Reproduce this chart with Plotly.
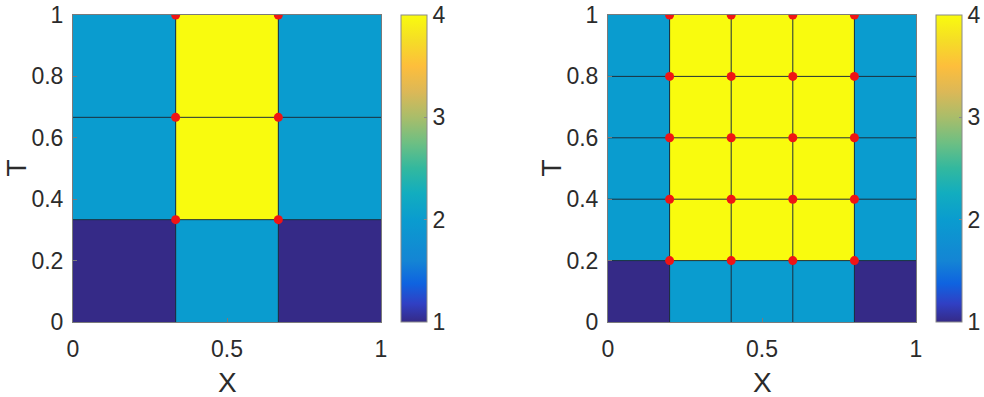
import plotly.graph_objects as go

# ---- data ----
x_edges_left = [0, 1/3, 2/3, 1]
t_edges_left = [0, 1/3, 2/3, 1]
z_left = [
    [1, 2, 1],
    [2, 4, 2],
    [2, 4, 2],
]
pts_left_x = [1/3, 2/3, 1/3, 2/3, 1/3, 2/3]
pts_left_t = [1/3, 1/3, 2/3, 2/3, 1, 1]

x_edges_right = [0, 0.2, 0.4, 0.6, 0.8, 1]
t_edges_right = [0, 0.2, 0.4, 0.6, 0.8, 1]
z_right = [
    [1, 2, 2, 2, 1],
    [2, 4, 4, 4, 2],
    [2, 4, 4, 4, 2],
    [2, 4, 4, 4, 2],
    [2, 4, 4, 4, 2],
]
nodes_right_x = [0.2, 0.4, 0.6, 0.8]
nodes_right_t = [0.2, 0.4, 0.6, 0.8, 1.0]

y_ticks = [0, 0.2, 0.4, 0.6, 0.8, 1]
y_tick_text = ["0", "0.2", "0.4", "0.6", "0.8", "1"]
x_ticks = [0, 0.5, 1]
x_tick_text = ["0", "0.5", "1"]
cb_ticks = [1, 2, 3, 4]
x_title = "X"
y_title = "T"

parula = [
    [0.000, "#352a87"], [0.060, "#3040c4"], [0.125, "#0f63e0"],
    [0.200, "#1485d4"], [0.333, "#0a9ccf"], [0.420, "#12adbf"],
    [0.500, "#32b89f"], [0.583, "#6dbf83"], [0.667, "#a9bd6a"],
    [0.750, "#dcb857"], [0.833, "#fdbe3c"], [0.917, "#f5dd26"],
    [1.000, "#f9fb0e"],
]

W, H = 984, 397
def px_x(p): return p / W
def px_y(p): return 1 - p / H

fig = go.Figure()

def grid_lines(xe, te, xa, ya):
    xs, ys = [], []
    for x in xe[1:-1]:
        xs += [x, x, None]; ys += [te[0], te[-1], None]
    for t in te[1:-1]:
        xs += [xe[0], xe[-1], None]; ys += [t, t, None]
    return go.Scatter(x=xs, y=ys, mode="lines", xaxis=xa, yaxis=ya,
                      line=dict(color="#1c2f3c", width=1), hoverinfo="skip",
                      showlegend=False)

fig.add_trace(go.Heatmap(x=x_edges_left, y=t_edges_left, z=z_left,
                         coloraxis="coloraxis", xaxis="x", yaxis="y"))
fig.add_trace(grid_lines(x_edges_left, t_edges_left, "x", "y"))
fig.add_trace(go.Scatter(x=pts_left_x, y=pts_left_t, mode="markers", xaxis="x", yaxis="y",
                         marker=dict(color="#f01414", size=9), showlegend=False))

fig.add_trace(go.Heatmap(x=x_edges_right, y=t_edges_right, z=z_right,
                         coloraxis="coloraxis2", xaxis="x2", yaxis="y2"))
fig.add_trace(grid_lines(x_edges_right, t_edges_right, "x2", "y2"))
rx = [x for t in nodes_right_t for x in nodes_right_x]
rt = [t for t in nodes_right_t for x in nodes_right_x]
fig.add_trace(go.Scatter(x=rx, y=rt, mode="markers", xaxis="x2", yaxis="y2",
                         marker=dict(color="#f01414", size=9), showlegend=False))

FAM = "Liberation Sans, Arial, sans-serif"
font = dict(family=FAM, size=23, color="#2b2b2b")
title_font = dict(family=FAM, size=28, color="#2b2b2b")
ytop, ybot = 15, 322
ydom = [px_y(ybot), px_y(ytop)]

def xaxis(dom, anchor):
    return dict(domain=dom, range=[0, 1], tickvals=x_ticks, ticktext=x_tick_text,
                anchor=anchor, showline=True, mirror=True, linecolor="#7a7a7a",
                linewidth=1, ticks="inside", ticklen=4, tickcolor="#7a7a7a",
                ticklabelstandoff=6,
                showgrid=False, zeroline=False, tickfont=font)

def yaxis(anchor):
    return dict(domain=ydom, range=[0, 1], tickvals=y_ticks, ticktext=y_tick_text,
                anchor=anchor, showline=True, mirror=True, linecolor="#7a7a7a",
                linewidth=1, ticks="inside", ticklen=4, tickcolor="#7a7a7a",
                ticklabelstandoff=4,
                showgrid=False, zeroline=False, tickfont=font)

def cbar(xleft):
    return dict(x=px_x(xleft), xanchor="left", y=px_y(ytop), yanchor="top",
                len=(ybot - ytop) / H, lenmode="fraction", thickness=26,
                thicknessmode="pixels", xpad=0, ypad=0, outlinecolor="#8a8a8a",
                outlinewidth=1, tickvals=cb_ticks, ticks="inside", ticklen=3,
                tickcolor="#8a8a8a", tickfont=font)

annotations = []
for xl, xr, ylab_x in [(73, 381, 0), (608, 916, 535)]:
    annotations.append(dict(text=x_title, x=px_x((xl + xr) / 2), y=px_y(382),
                            xref="paper", yref="paper", showarrow=False,
                            xanchor="center", yanchor="middle", font=title_font))
    annotations.append(dict(text=y_title, x=px_x(ylab_x), y=px_y(168),
                            xref="paper", yref="paper", showarrow=False, textangle=-90,
                            borderpad=0,
                            xanchor="left", yanchor="middle", font=title_font))

fig.update_layout(
    width=W, height=H, margin=dict(l=0, r=0, t=0, b=0, autoexpand=False),
    paper_bgcolor="white", plot_bgcolor="white", showlegend=False,
    xaxis=xaxis([px_x(73), px_x(381)], "y"),
    yaxis=yaxis("x"),
    xaxis2=xaxis([px_x(608), px_x(916)], "y2"),
    yaxis2=yaxis("x2"),
    coloraxis=dict(colorscale=parula, cmin=1, cmax=4, colorbar=cbar(401)),
    coloraxis2=dict(colorscale=parula, cmin=1, cmax=4, colorbar=cbar(936)),
    annotations=annotations,
)

fig.write_html("out.html")
